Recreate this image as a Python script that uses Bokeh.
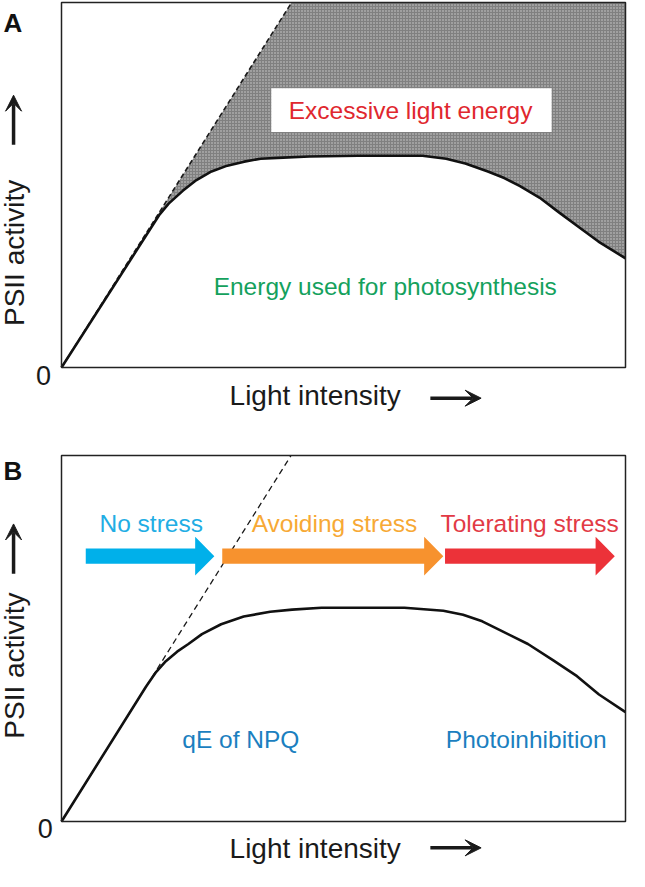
from bokeh.plotting import figure
from bokeh.models import Range1d, Label, Arrow, VeeHead
from bokeh.layouts import column
from bokeh.embed import file_html
from bokeh.resources import INLINE

FONT = "Liberation Sans"

# ---------------- data (normalised 0-100 on both axes) ----------------
# Panel A: PSII activity response curve
a_light = [0, 17.3, 19.0, 21.5, 23.7, 26.6, 29.4, 32.4, 35.3, 39.3, 43.9, 52.6, 64.0,
           68.2, 71.6, 75.6, 78.5, 81.3, 84.8, 88.2, 91.7, 95.2, 100]
a_activity = [0, 41.7, 44.9, 48.4, 51.1, 53.7, 55.3, 56.4, 57.2, 57.5, 57.8, 58.0, 58.0,
              57.2, 55.9, 53.7, 51.9, 49.7, 46.5, 42.5, 38.5, 34.5, 29.9]
# Potential (linear) activity line
a_dash_x = [0, 40.8]
a_dash_y = [0, 100]

# Panel B
b_light = [0, 15.0, 16.8, 18.5, 20.5, 22.5, 24.9, 28.3, 32.3, 37.0, 40.9, 46.1, 60.8, 67.7,
           71.2, 74.6, 78.1, 82.7, 87.2, 91.4, 95.3, 100]
b_activity = [0, 36.9, 40.9, 43.8, 46.4, 48.5, 51.2, 53.9, 56.0, 57.3, 57.9, 58.4, 58.4, 57.6,
              56.5, 54.7, 52.0, 48.5, 44.0, 39.7, 34.7, 29.9]
b_dash_x = [0, 40.7]
b_dash_y = [0, 100]

# Stress stages (panel B)
stage_names = ["No stress", "Avoiding stress", "Tolerating stress"]
stage_start = [4.3, 28.5, 68.0]
stage_tip = [27.1, 67.7, 98.1]
stage_label_x = [15.9, 48.4, 83.0]
stage_arrow_colors = ["#00b0ea", "#f7922e", "#ec3239"]
stage_text_colors = ["#22ade4", "#f7a935", "#e23a45"]

W = 629


# ---------------- helpers ----------------
def make_fig(h, box_left, box_right, box_top, box_bottom):
    sx = (box_right - box_left) / 100.0
    sy = (box_bottom - box_top) / 100.0
    xr = Range1d(-box_left / sx, 100 + (W - box_right) / sx)
    yr = Range1d(-(h - box_bottom) / sy, 100 + box_top / sy)
    p = figure(width=W, height=h, x_range=xr, y_range=yr,
               output_backend="svg", toolbar_location=None,
               x_axis_location=None, y_axis_location=None,
               min_border=0)
    p.grid.visible = False
    p.outline_line_color = None
    p.background_fill_color = "white"
    p.border_fill_color = "white"
    return p


def lab(p, x, y, text, size, color="#1a1a1a", align="left", angle=0.0, style="normal"):
    p.add_layout(Label(x=x, y=y, text=text, text_font=FONT, text_font_size=size,
                       text_color=color, text_align=align, text_baseline="middle",
                       angle=angle, text_font_style=style))


def arrow(p, x0, y0, x1, y1):
    p.add_layout(Arrow(x_start=x0, y_start=y0, x_end=x1, y_end=y1,
                       line_width=3.5, line_color="#1a1a1a",
                       end=VeeHead(size=16, fill_color="#1a1a1a", line_color="#1a1a1a")))


def axis_decor(p, panel, panel_y, zero_x, zero_y, xl_y, xarrow_y, yl_center, yarrow_lo, yarrow_hi):
    p.quad(left=[0], right=[100], bottom=[0], top=[100], fill_color=None,
           line_color="#222222", line_width=1.5)
    lab(p, -10.3, panel_y, panel, "26px", "#111111", style="bold")
    lab(p, zero_x, zero_y, "0", "27px", align="center")
    lab(p, 29.8, xl_y, "Light intensity", "28px")
    arrow(p, 65.4, xarrow_y, 74.4, xarrow_y)
    lab(p, -8.3, yl_center, "PSII activity", "28px", align="center", angle=1.5708)
    arrow(p, -8.5, yarrow_lo, -8.5, yarrow_hi)


# ---------------- Panel A ----------------
pA = make_fig(430, 61, 625, 2, 367)

poly_x = list(a_dash_x) + [100, 100] + a_light[::-1]
poly_y = list(a_dash_y) + [100, a_activity[-1]] + a_activity[::-1]
pA.patch(poly_x, poly_y, fill_color="#808080", line_color=None,
         hatch_pattern="dot", hatch_color="#d0d0d0", hatch_scale=3, hatch_weight=1)
pA.line(a_dash_x, a_dash_y, line_color="#1a1a1a", line_width=1.6, line_dash="5 3")
pA.line(a_light, a_activity, line_color="#111111", line_width=2.6, line_join="round")

pA.quad(left=[37.2], right=[86.9], bottom=[64.5], top=[76.5], fill_color="white", line_color=None)
lab(pA, 61.9, 70.5, "Excessive light energy", "24.5px", "#e0272e", align="center")
lab(pA, 57.4, 22.3, "Energy used for photosynthesis", "24.5px", "#14a15d", align="center")

axis_decor(pA, "A", 94.5, -3.2, -2.3, -7.6, -8.4, 31.4, 61.0, 74.6)

# ---------------- Panel B ----------------
pB = make_fig(440, 61, 625, 25, 391)

pB.line(b_dash_x, b_dash_y, line_color="#1a1a1a", line_width=1.3, line_dash="6 4")
pB.line(b_light, b_activity, line_color="#111111", line_width=2.6, line_join="round")

ymid, shaft, head, head_len = 72.5, 2.1, 5.3, 3.4
xs, ys = [], []
for s, t in zip(stage_start, stage_tip):
    b = t - head_len
    xs.append([s, b, b, t, b, b, s])
    ys.append([ymid - shaft, ymid - shaft, ymid - head, ymid, ymid + head, ymid + shaft, ymid + shaft])
pB.patches(xs, ys, fill_color=stage_arrow_colors, line_color=None)

for name, x, c in zip(stage_names, stage_label_x, stage_text_colors):
    lab(pB, x, 81.5, name, "24.5px", c, align="center")

lab(pB, 31.8, 22.4, "qE of NPQ", "24.5px", "#1b7fc0", align="center")
lab(pB, 82.4, 22.4, "Photoinhibition", "24.5px", "#1b7fc0", align="center")

axis_decor(pB, "B", 95.7, -2.9, -1.9, -7.4, -7.2, 42.6, 67.7, 81.3)

layout = column(pA, pB)
open("out.html", "w").write(file_html(layout, INLINE))
